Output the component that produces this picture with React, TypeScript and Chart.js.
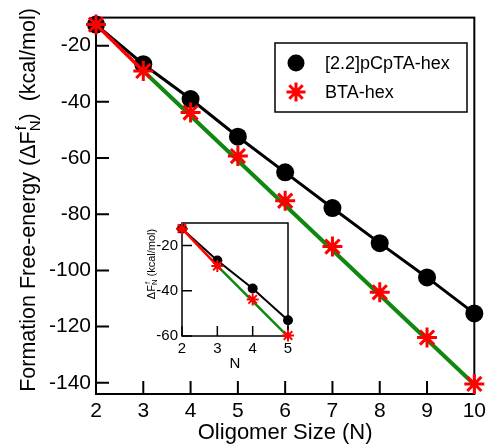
import React, { useEffect, useRef } from 'react';
import { Chart, registerables } from 'chart.js';
Chart.register(...registerables);

// ---- data ----
const oligomerN = [2, 3, 4, 5, 6, 7, 8, 9, 10];
const pcptaHex = [-12.5, -26.6, -39.0, -52.4, -65.1, -77.8, -90.3, -102.5, -115.3];
const btaHex = [-12.5, -29.0, -43.8, -59.3, -75.2, -91.5, -107.8, -123.9, -140.4];
const btaFitN = [3, 10];
const btaFitMain = [-29.0, -140.6];
const insetN = [2, 3, 4, 5];
const insetPcpta = [-12.5, -26.6, -39.0, -53.0];
const insetBta = [-12.5, -29.0, -43.8, -59.8];
const insetFitN = [3, 5];
const insetFit = [-29.0, -60.3];
const mainXTicks = [2, 3, 4, 5, 6, 7, 8, 9, 10];
const mainYTicks = [-140, -120, -100, -80, -60, -40, -20];
const insetXTicks = [2, 3, 4, 5];
const insetYTicks = [-60, -40, -20];

const FONT = '"Liberation Sans", Arial, Helvetica, sans-serif';
const RED = '#ff0000';
const GREEN = 'rgb(16,136,16)';

const pts = (xs: number[], ys: number[]) => xs.map((x, i) => ({ x, y: ys[i] }));

const framePlugin = (len: number, lw: number) => ({
  id: 'frameTicks',
  beforeDatasetsDraw(chart: any) {
    const { ctx, chartArea: a, scales } = chart;
    ctx.save();
    ctx.strokeStyle = '#000';
    ctx.lineWidth = lw;
    ctx.strokeRect(a.left, a.top, a.right - a.left, a.bottom - a.top);
    ctx.beginPath();
    scales.x.ticks.forEach((t: any) => {
      const px = scales.x.getPixelForValue(t.value);
      ctx.moveTo(px, a.bottom);
      ctx.lineTo(px, a.bottom - len);
    });
    scales.y.ticks.forEach((t: any) => {
      const py = scales.y.getPixelForValue(t.value);
      ctx.moveTo(a.left, py);
      ctx.lineTo(a.left + len, py);
    });
    ctx.stroke();
    ctx.restore();
  },
});

type Seg = { t: string; sup?: string; sub?: string };
function drawRotatedRich(ctx: CanvasRenderingContext2D, segs: Seg[], size: number, bx: number, cy: number) {
  const small = size * 0.7;
  const main = `${size}px ${FONT}`;
  const sm = `${small}px ${FONT}`;
  ctx.save();
  let total = 0;
  const widths: number[] = [];
  segs.forEach((s) => {
    let w = 0;
    if (s.t) { ctx.font = main; w = ctx.measureText(s.t).width; }
    else {
      ctx.font = sm;
      w = Math.max(ctx.measureText(s.sup || '').width, ctx.measureText(s.sub || '').width);
    }
    widths.push(w);
    total += w;
  });
  ctx.translate(bx, cy);
  ctx.rotate(-Math.PI / 2);
  ctx.fillStyle = '#000';
  ctx.textBaseline = 'alphabetic';
  ctx.textAlign = 'left';
  let x = -total / 2;
  segs.forEach((s, i) => {
    if (s.t) { ctx.font = main; ctx.fillText(s.t, x, 0); }
    else {
      ctx.font = sm;
      if (s.sup) ctx.fillText(s.sup, x + 1, -size * 0.42);
      if (s.sub) ctx.fillText(s.sub, x, size * 0.22);
    }
    x += widths[i];
  });
  ctx.restore();
}

const titleSegs: Seg[] = [
  { t: 'Formation Free-energy (ΔF' },
  { t: '', sup: 'f', sub: 'N' },
  { t: ')  (kcal/mol)' },
];
const insetTitleSegs: Seg[] = [
  { t: 'ΔF' },
  { t: '', sup: 'f', sub: 'N' },
  { t: ' (kcal/mol)' },
];

const yTitlePlugin = (segs: Seg[], size: number, bx: number, cy: number) => ({
  id: 'yTitleRich',
  afterDraw(chart: any) {
    drawRotatedRich(chart.ctx, segs, size, bx, cy);
  },
});

const legendPlugin = {
  id: 'boxLegend',
  afterDatasetsDraw(chart: any) {
    const { ctx } = chart;
    const items = chart.data.datasets
      .filter((d: any) => d.legendRank !== undefined)
      .sort((a: any, b: any) => a.legendRank - b.legendRank);
    ctx.save();
    ctx.strokeStyle = '#000';
    ctx.lineWidth = 1.5;
    ctx.fillStyle = '#fff';
    ctx.fillRect(275, 43, 192, 69);
    ctx.strokeRect(275, 43, 192, 69);
    items.forEach((d: any, i: number) => {
      const cx = 296;
      const cy = 63 + i * 29;
      if (d.pointStyle === 'circle') {
        ctx.fillStyle = d.pointBackgroundColor;
        ctx.beginPath();
        ctx.arc(cx, cy, 8.5, 0, Math.PI * 2);
        ctx.fill();
      } else {
        ctx.strokeStyle = d.borderColor;
        ctx.lineWidth = 3;
        ctx.beginPath();
        const r = 9.5;
        for (let k = 0; k < 4; k++) {
          const ang = (k * Math.PI) / 4;
          ctx.moveTo(cx - Math.cos(ang) * r, cy - Math.sin(ang) * r);
          ctx.lineTo(cx + Math.cos(ang) * r, cy + Math.sin(ang) * r);
        }
        ctx.stroke();
      }
      ctx.fillStyle = '#000';
      ctx.font = `18px ${FONT}`;
      ctx.textBaseline = 'middle';
      ctx.textAlign = 'left';
      ctx.fillText(d.label, 325, cy + 1);
    });
    ctx.restore();
  },
};

function axisOpts(ticksArr: number[], min: number, max: number, size: number, pad: number, fit: (s: any) => void, title?: any) {
  return {
    type: 'linear' as const,
    min,
    max,
    afterBuildTicks: (s: any) => { s.ticks = ticksArr.map((v) => ({ value: v })); },
    afterFit: fit,
    grid: { display: false, drawTicks: false },
    border: { display: false },
    ticks: { font: { family: FONT, size }, color: '#000', padding: pad, maxRotation: 0, autoSkip: false },
    title: title || { display: false },
  };
}

export default function App() {
  const mainRef = useRef<HTMLCanvasElement>(null);
  const insetRef = useRef<HTMLCanvasElement>(null);

  useEffect(() => {
    const main = new Chart(mainRef.current!, {
      type: 'scatter',
      data: {
        datasets: [
          { label: 'BTA-hex', legendRank: 1, data: pts(oligomerN, btaHex), showLine: false, pointStyle: 'star', pointRadius: 10, pointBorderWidth: 3, borderColor: RED, backgroundColor: RED, order: 0, clip: false } as any,
          { label: 'BTA fit', data: pts(btaFitN, btaFitMain), showLine: true, borderColor: GREEN, borderWidth: 4, pointRadius: 0, order: 1, clip: false } as any,
          { label: 'BTA 2-3', data: pts(oligomerN.slice(0, 2), btaHex.slice(0, 2)), showLine: true, borderColor: RED, borderWidth: 3.5, pointRadius: 0, order: 2, clip: false } as any,
          { label: '[2.2]pCpTA-hex', legendRank: 0, data: pts(oligomerN, pcptaHex), showLine: true, borderColor: '#000', borderWidth: 3, pointStyle: 'circle', pointRadius: 9, pointBackgroundColor: '#000', pointBorderWidth: 0, order: 3, clip: false } as any,
        ],
      },
      options: {
        animation: false,
        responsive: false,
        events: [],
        layout: { padding: { top: 15, right: 14, left: 0, bottom: 0 } },
        plugins: { legend: { display: false }, tooltip: { enabled: false } },
        scales: {
          x: axisOpts(mainXTicks, 2, 10, 21, 5, (s: any) => { s.height = 50; }, {
            display: true, text: 'Oligomer Size (N)', font: { family: FONT, size: 22 }, color: '#000', padding: { top: 0, bottom: -2 },
          }),
          y: axisOpts(mainYTicks, -144, -10, 21, 5, (s: any) => { s.width = 96; }),
        },
      } as any,
      plugins: [framePlugin(13, 2), legendPlugin, yTitlePlugin(titleSegs, 21.5, 35, 200)],
    });

    const inset = new Chart(insetRef.current!, {
      type: 'scatter',
      data: {
        datasets: [
          { label: 'BTA-hex', data: pts(insetN, insetBta), showLine: false, pointStyle: 'star', pointRadius: 6, pointBorderWidth: 2, borderColor: RED, backgroundColor: RED, order: 0, clip: false } as any,
          { label: 'BTA fit', data: pts(insetFitN, insetFit), showLine: true, borderColor: GREEN, borderWidth: 2.5, pointRadius: 0, order: 1, clip: false } as any,
          { label: 'BTA 2-3', data: pts(insetN.slice(0, 2), insetBta.slice(0, 2)), showLine: true, borderColor: RED, borderWidth: 2.5, pointRadius: 0, order: 2, clip: false } as any,
          { label: '[2.2]pCpTA-hex', data: pts(insetN, insetPcpta), showLine: true, borderColor: '#000', borderWidth: 2, pointStyle: 'circle', pointRadius: 5, pointBackgroundColor: '#000', pointBorderWidth: 0, order: 3, clip: false } as any,
        ],
      },
      options: {
        animation: false,
        responsive: false,
        events: [],
        layout: { padding: { top: 11, right: 12, left: 0, bottom: 0 } },
        plugins: { legend: { display: false }, tooltip: { enabled: false } },
        scales: {
          x: axisOpts(insetXTicks, 2, 5, 15, 4, (s: any) => { s.height = 44; }, {
            display: true, text: 'N', font: { family: FONT, size: 15 }, color: '#000', padding: { top: 0, bottom: 7 },
          }),
          y: axisOpts(insetYTicks, -60, -10, 15, 4, (s: any) => { s.width = 52; }),
        },
      } as any,
      plugins: [framePlugin(10, 1.5), yTitlePlugin(insetTitleSegs, 11, 25, 54)],
    });

    return () => { main.destroy(); inset.destroy(); };
  }, []);

  return (
    <div style={{ position: 'fixed', left: 0, top: 0, width: 491, height: 444, background: '#fff' }}>
      <canvas ref={mainRef} width={491} height={444} style={{ position: 'absolute', left: 0, top: 0 }} />
      <canvas ref={insetRef} width={170} height={170} style={{ position: 'absolute', left: 130, top: 210 }} />
    </div>
  );
}
